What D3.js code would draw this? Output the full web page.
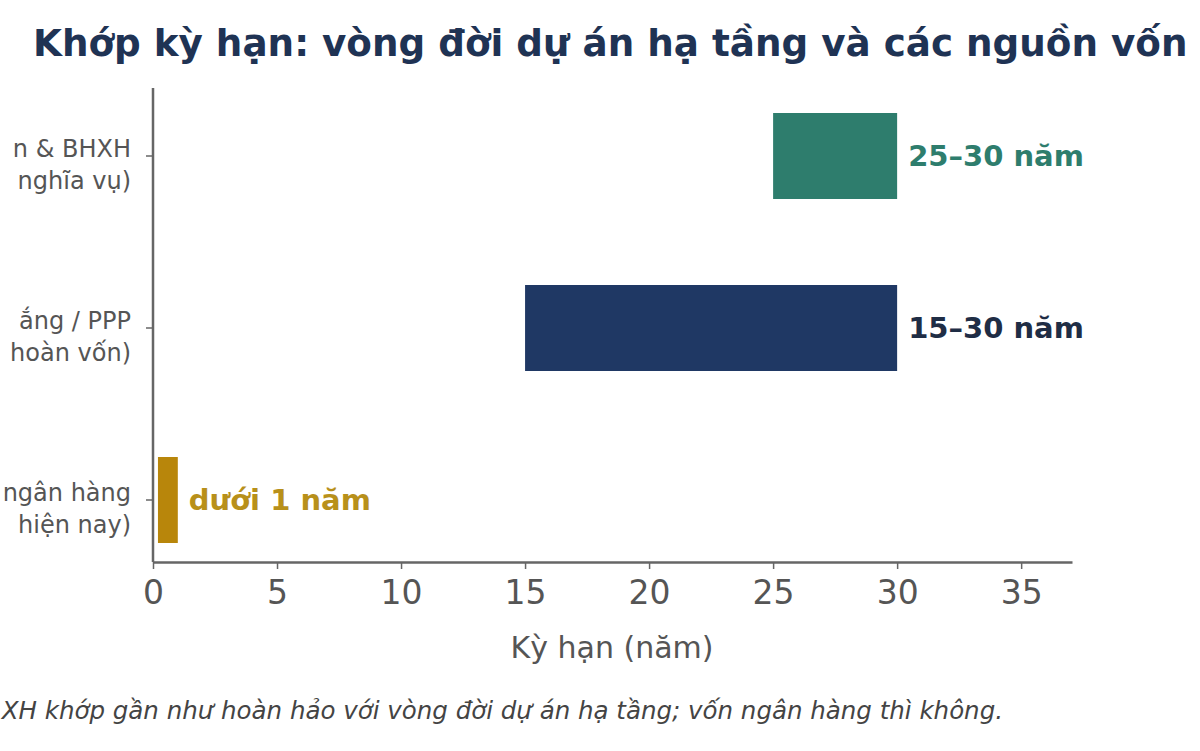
<!DOCTYPE html>
<html>
<head>
<meta charset="utf-8">
<script src="https://cdn.jsdelivr.net/npm/d3@7"></script>
<style>
  body { margin: 0; background: #fff; }
  svg { display: block; font-family: "DejaVu Sans", sans-serif; }
</style>
</head>
<body>
<svg width="1200" height="751"></svg>
<script>
// nguồn vốn (nhãn bị cắt ở mép trái như ảnh gốc)
var categories = ["bhxh", "ppp", "bank"];
var labelLines = [["n & BHXH", "nghĩa vụ)"], ["ắng / PPP", "hoàn vốn)"], ["ngân hàng", "hiện nay)"]];
var startYears = [25, 15, 0.2];
var endYears = [30, 30, 1];
var valueLabels = ["25–30 năm", "15–30 năm", "dưới 1 năm"];
var xTicks = [0, 5, 10, 15, 20, 25, 30, 35];

var COLORS = ["#2e7d6d", "#1f3864", "#b8860b"];
var LABEL_COLORS = ["#2e7d6d", "#1f2d45", "#b8901a"];

var svg = d3.select("svg");
var MARGIN = {top: 88, left: 153, right: 128, bottom: 189};
var WIDTH = 1200 - MARGIN.left - MARGIN.right;
var HEIGHT = 751 - MARGIN.top - MARGIN.bottom;

svg.append("text")
    .attr("x", 33).attr("y", 56)
    .attr("font-size", 37.3).attr("font-weight", "bold")
    .attr("fill", "#1f3354")
    .text("Khớp kỳ hạn: vòng đời dự án hạ tầng và các nguồn vốn");

var g = svg.append("g")
    .attr("transform", "translate(" + MARGIN.left + "," + MARGIN.top + ")");

var x = d3.scaleLinear().domain([0, 37.05]).range([0, WIDTH]);
var y = d3.scaleBand().domain(categories).range([25, 455]).paddingInner(0.5).paddingOuter(0);

g.selectAll(".bar")
    .data(categories)
    .enter().append("rect")
    .attr("class", "bar")
    .attr("x", (d, i) => x(startYears[i]))
    .attr("width", (d, i) => x(endYears[i]) - x(startYears[i]))
    .attr("y", d => y(d))
    .attr("height", y.bandwidth())
    .attr("fill", (d, i) => COLORS[i]);

g.selectAll(".val")
    .data(categories)
    .enter().append("text")
    .attr("class", "val")
    .attr("x", (d, i) => x(endYears[i]) + 11)
    .attr("y", d => y(d) + y.bandwidth() / 2 + 10)
    .attr("font-size", 29).attr("font-weight", "bold")
    .attr("fill", (d, i) => LABEL_COLORS[i])
    .text((d, i) => valueLabels[i]);

// trục x
var xAxis = g.append("g")
    .attr("transform", "translate(0," + HEIGHT + ")")
    .call(d3.axisBottom(x).tickValues(xTicks).tickSize(7).tickPadding(12).tickSizeOuter(0));
xAxis.select(".domain").attr("stroke", "#666").attr("stroke-width", 2.5);
xAxis.selectAll(".tick line").attr("stroke", "#666").attr("stroke-width", 1.5);
xAxis.selectAll(".tick text").attr("font-size", 33).attr("fill", "#555").attr("font-family", "DejaVu Sans");

g.append("text")
    .attr("x", 612 - MARGIN.left).attr("y", HEIGHT + 96)
    .attr("text-anchor", "middle")
    .attr("font-size", 30).attr("fill", "#555")
    .text("Kỳ hạn (năm)");

// trục y
var yAxis = g.append("g")
    .call(d3.axisLeft(y).tickSize(7).tickFormat("").tickSizeOuter(0));
yAxis.select(".domain").attr("stroke", "#666").attr("stroke-width", 2.5)
    .attr("d", "M0,0V" + HEIGHT);
yAxis.selectAll(".tick line").attr("stroke", "#666").attr("stroke-width", 1.5);

categories.forEach(function(c, i) {
  var t = g.append("text")
      .attr("x", -22)
      .attr("y", y(c) + y.bandwidth() / 2 + 1)
      .attr("text-anchor", "end")
      .attr("font-size", 24).attr("fill", "#555");
  t.selectAll("tspan").data(labelLines[i]).enter().append("tspan")
      .attr("x", -22).attr("dy", (d, j) => j === 0 ? 0 : 32)
      .text(d => d);
});

svg.append("text")
    .attr("x", 1003).attr("y", 719)
    .attr("text-anchor", "end")
    .attr("font-size", 24.5).attr("font-style", "italic").attr("fill", "#444")
    .text("XH khớp gần như hoàn hảo với vòng đời dự án hạ tầng; vốn ngân hàng thì không.");
</script>
</body>
</html>
